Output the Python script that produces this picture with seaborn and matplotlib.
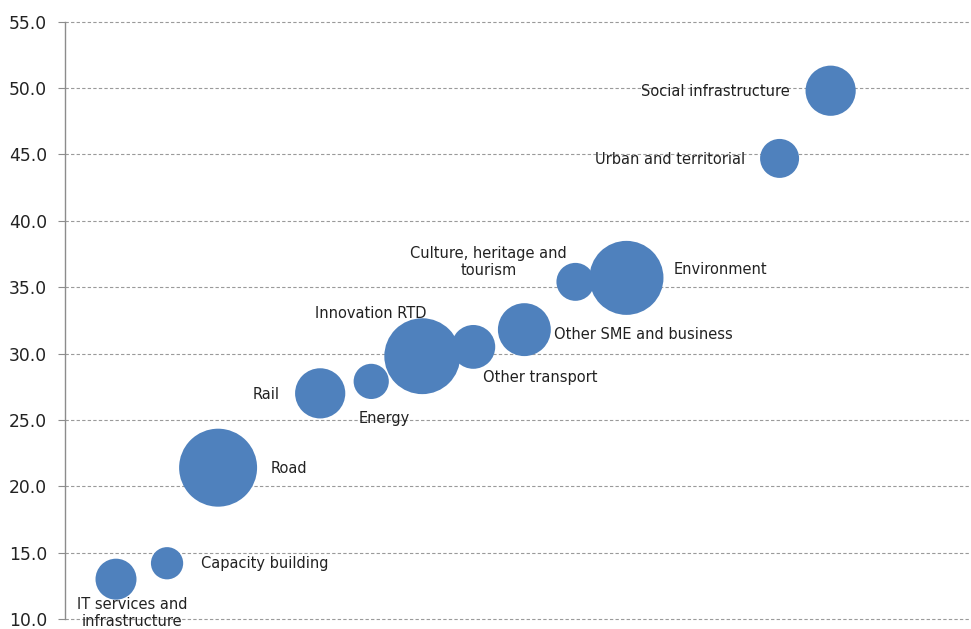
import matplotlib
matplotlib.use("Agg")
import matplotlib.pyplot as plt
import seaborn as sns
import pandas as pd

# Thematic priorities: position on the horizontal scale, share (%) and bubble size
categories = [
    "IT services and\ninfrastructure", "Capacity building", "Road", "Rail", "Energy",
    "Innovation RTD", "Other transport", "Other SME and business",
    "Culture, heritage and\ntourism", "Environment", "Urban and territorial",
    "Social infrastructure",
]
x_pos = [1, 2, 3, 5, 6, 7, 8, 9, 10, 11, 14, 15]
share = [13.0, 14.2, 21.4, 27.0, 27.9, 29.8, 30.5, 31.8, 35.4, 35.7, 44.7, 49.8]
volume = [4.2, 2.6, 15.2, 6.3, 3.1, 14.4, 4.8, 7.0, 3.6, 13.7, 3.8, 6.3]

y_ticks = [10.0, 15.0, 20.0, 25.0, 30.0, 35.0, 40.0, 45.0, 50.0, 55.0]

df = pd.DataFrame({"category": categories, "x": x_pos, "share": share, "volume": volume})

# label placement relative to each bubble centre (pixels), with alignment
label_layout = {
    "IT services and\ninfrastructure": ((16, -18), "center", "top"),
    "Capacity building": ((34, 0), "left", "center"),
    "Road": ((53, -1), "left", "center"),
    "Rail": ((-41, -1), "right", "center"),
    "Energy": ((13, -37), "center", "center"),
    "Innovation RTD": ((-52, 43), "center", "center"),
    "Other transport": ((10, -31), "left", "center"),
    "Other SME and business": ((30, -5), "left", "center"),
    "Culture, heritage and\ntourism": ((-87, 20), "center", "center"),
    "Environment": ((47, 8), "left", "center"),
    "Urban and territorial": ((-34, -1), "right", "center"),
    "Social infrastructure": ((-41, -1), "right", "center"),
}

sns.set_theme(style="white")
plt.rcParams["font.family"] = ["DejaVu Sans"]

fig = plt.figure(figsize=(9.71, 6.29), dpi=100)
ax = fig.add_axes([0.0669, 0.0159, 0.9331, 0.9496])

# marker area in pt^2 proportional to volume
k = 207.4
sns.scatterplot(
    data=df, x="x", y="share", size="volume",
    sizes=(k * min(volume), k * max(volume)),
    color="#4F81BD", linewidth=0, alpha=1.0, legend=False, ax=ax, zorder=3,
)

for cat, xv, yv in zip(categories, x_pos, share):
    (dx, dy), ha, va = label_layout[cat]
    ax.annotate(cat, (xv, yv), xytext=(dx, dy), textcoords="offset pixels",
                ha=ha, va=va, fontsize=10.5, color="#222222",
                multialignment="center", linespacing=1.15,
                annotation_clip=False, zorder=4)

ax.set_xlim(0, 17.75)
ax.set_ylim(10, 55)
ax.set_yticks(y_ticks)
ax.set_yticklabels([f"{t:.1f}" for t in y_ticks], fontsize=12.3, color="#222222")
ax.set_xticks([])
ax.set_xlabel("")
ax.set_ylabel("")

ax.yaxis.grid(True, color="#9a9a9a", linestyle=(0, (3, 2)), linewidth=0.8)
for gl in ax.get_ygridlines():
    gl.set_clip_on(False)
ax.set_axisbelow(True)
for side in ["top", "right", "bottom"]:
    ax.spines[side].set_visible(False)
ax.spines["left"].set_color("#8c8c8c")
ax.spines["left"].set_linewidth(1.0)
ax.tick_params(axis="y", which="major", left=True, length=5, width=0.8,
               color="#8c8c8c", pad=8)

fig.savefig("out.png", dpi=100)
